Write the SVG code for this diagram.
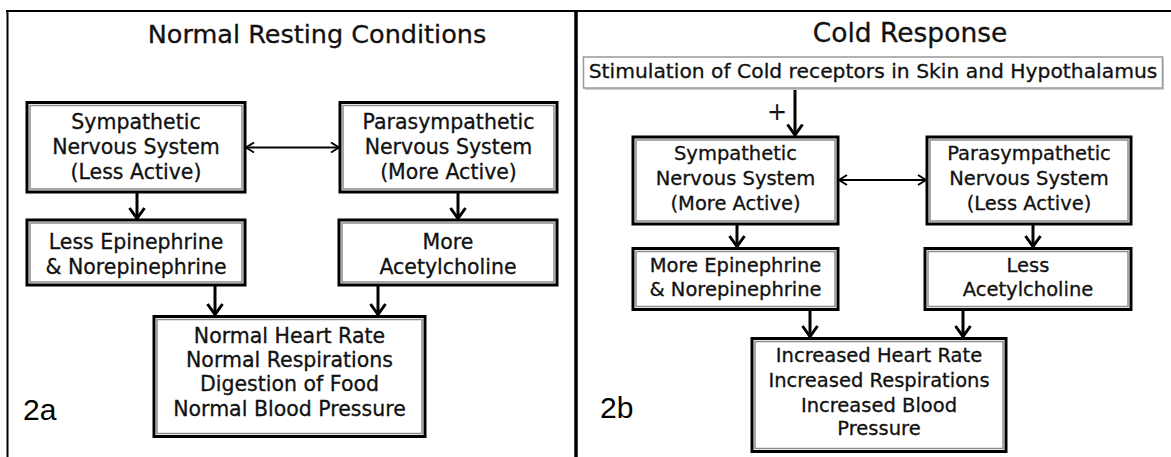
<svg xmlns="http://www.w3.org/2000/svg" width="1171" height="457" viewBox="0 0 1171 457">
<style>
text{font-family:"DejaVu Sans","Liberation Sans",sans-serif;fill:#111;stroke:#111;stroke-width:0.3;text-anchor:middle}
.t{font-size:25.5px}
.a{font-size:20.5px}
.b{font-size:19.5px}
.s{font-size:20.3px}
.lab{font-family:"Liberation Sans",Arial,sans-serif;font-size:30px;text-anchor:start;fill:#000;stroke:none}
.bo{fill:#fff;stroke:#000;stroke-width:3}
.bi{fill:none;stroke:#8c8c8c;stroke-width:1.5}
.frame{stroke:#000;fill:none}
.v{stroke:#000;stroke-width:3;fill:none;marker-end:url(#ah)}
.h{stroke:#000;stroke-width:2;fill:none;marker-start:url(#ah2);marker-end:url(#ah2)}
</style>
<defs>
<marker id="ah" viewBox="0 0 14 18" refX="12.5" refY="9" markerWidth="14" markerHeight="18" markerUnits="userSpaceOnUse" orient="auto">
<path d="M1.5,1.5 L12,9 L1.5,16.5" fill="none" stroke="#000" stroke-width="3"/>
</marker>
<marker id="ah2" viewBox="0 0 10 12" refX="9" refY="6" markerWidth="10" markerHeight="12" markerUnits="userSpaceOnUse" orient="auto-start-reverse">
<path d="M1,1 L9,6 L1,11" fill="none" stroke="#000" stroke-width="2"/>
</marker>
</defs>
<rect width="1171" height="457" fill="#fff"/>
<g id="frame">
<line class="frame" x1="6" y1="11" x2="1171" y2="11" stroke-width="2.2"/>
<line class="frame" x1="7.5" y1="10" x2="7.5" y2="457" stroke-width="2"/>
<line class="frame" x1="576" y1="10" x2="576" y2="457" stroke-width="3.5"/>
</g>
<g id="titles">
<text class="t" x="317" y="43">Normal Resting Conditions</text>
<text class="t" x="910" y="41.5" style="font-size:26.5px">Cold Response</text>
<text class="lab" x="23" y="420">2a</text>
<text class="lab" x="600" y="418">2b</text>
</g>
<g id="connectors">
<line class="h" x1="246" y1="147.5" x2="339" y2="147.5"/>
<line class="v" x1="137" y1="192" x2="137" y2="219"/>
<line class="v" x1="458" y1="192" x2="458" y2="219"/>
<line class="v" x1="215" y1="285" x2="215" y2="315"/>
<line class="v" x1="378" y1="285" x2="378" y2="315"/>
<line class="v" x1="795" y1="89" x2="795" y2="135.5"/>
<line class="h" x1="839" y1="180" x2="926" y2="180"/>
<line class="v" x1="737" y1="224" x2="737" y2="247"/>
<line class="v" x1="1033" y1="224" x2="1033" y2="247"/>
<line class="v" x1="810" y1="309.5" x2="810" y2="337"/>
<line class="v" x1="963" y1="309.5" x2="963" y2="337"/>
<text class="s" x="777" y="120" style="font-size:24px;stroke-width:0.1">+</text>
</g>
<g id="a-symp">
<rect class="bo" x="27" y="102.5" width="218" height="89.5"/>
<rect class="bi" x="30" y="105.5" width="212" height="83.5"/>
<text class="a" x="136" y="129">Sympathetic</text>
<text class="a" x="136" y="154">Nervous System</text>
<text class="a" x="136" y="179">(Less Active)</text>
</g>
<g id="a-para">
<rect class="bo" x="340" y="102.5" width="217" height="89.5"/>
<rect class="bi" x="343" y="105.5" width="211" height="83.5"/>
<text class="a" x="448.5" y="129">Parasympathetic</text>
<text class="a" x="448.5" y="154">Nervous System</text>
<text class="a" x="448.5" y="179">(More Active)</text>
</g>
<g id="a-epi">
<rect class="bo" x="27" y="220" width="218" height="65"/>
<rect class="bi" x="30" y="223" width="212" height="59"/>
<text class="a" x="136" y="249">Less Epinephrine</text>
<text class="a" x="136" y="274">&amp; Norepinephrine</text>
</g>
<g id="a-ach">
<rect class="bo" x="339" y="220" width="218" height="65"/>
<rect class="bi" x="342" y="223" width="212" height="59"/>
<text class="a" x="448" y="249">More</text>
<text class="a" x="448" y="274">Acetylcholine</text>
</g>
<g id="a-result">
<rect class="bo" x="154" y="316.5" width="271" height="120"/>
<rect class="bi" x="157" y="319.5" width="265" height="114"/>
<text class="a" x="289.5" y="342.5">Normal Heart Rate</text>
<text class="a" x="289.5" y="367">Normal Respirations</text>
<text class="a" x="289.5" y="391">Digestion of Food</text>
<text class="a" x="289.5" y="415.5">Normal Blood Pressure</text>
</g>
<g id="b-stim">
<rect x="585" y="59" width="579" height="31" fill="#d0d0d0"/>
<rect x="583.5" y="57" width="579" height="31" fill="#fff" stroke="#999" stroke-width="1.5"/>
<text class="s" x="873" y="77.5">Stimulation of Cold receptors in Skin and Hypothalamus</text>
</g>
<g id="b-symp">
<rect class="bo" x="633" y="137" width="205" height="87"/>
<rect class="bi" x="636" y="140" width="199" height="81"/>
<text class="b" x="735.5" y="160">Sympathetic</text>
<text class="b" x="735.5" y="185">Nervous System</text>
<text class="b" x="735.5" y="210">(More Active)</text>
</g>
<g id="b-para">
<rect class="bo" x="927" y="137" width="204" height="87"/>
<rect class="bi" x="930" y="140" width="198" height="81"/>
<text class="b" x="1029" y="160">Parasympathetic</text>
<text class="b" x="1029" y="185">Nervous System</text>
<text class="b" x="1029" y="210">(Less Active)</text>
</g>
<g id="b-epi">
<rect class="bo" x="633" y="248.5" width="205" height="61"/>
<rect class="bi" x="636" y="251.5" width="199" height="55"/>
<text class="b" x="735.5" y="272">More Epinephrine</text>
<text class="b" x="735.5" y="296">&amp; Norepinephrine</text>
</g>
<g id="b-ach">
<rect class="bo" x="925" y="248.5" width="206" height="61"/>
<rect class="bi" x="928" y="251.5" width="200" height="55"/>
<text class="b" x="1028" y="272">Less</text>
<text class="b" x="1028" y="296">Acetylcholine</text>
</g>
<g id="b-result">
<rect class="bo" x="752" y="338.5" width="254" height="113"/>
<rect class="bi" x="755" y="341.5" width="248" height="107"/>
<text class="b" x="879" y="362">Increased Heart Rate</text>
<text class="b" x="879" y="387">Increased Respirations</text>
<text class="b" x="879" y="412">Increased Blood</text>
<text class="b" x="879" y="435">Pressure</text>
</g>
</svg>
